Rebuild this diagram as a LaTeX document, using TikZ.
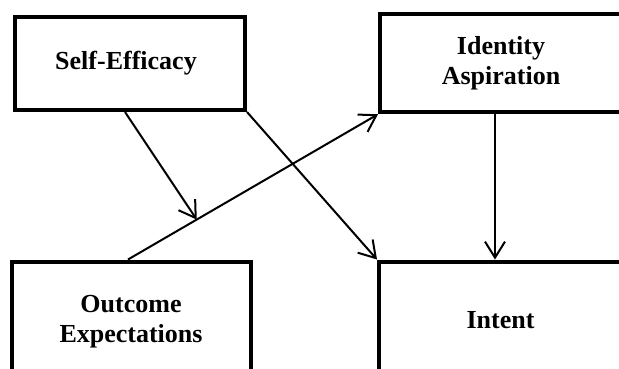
\documentclass[tikz,border=0pt]{standalone}
\usepackage{fontspec}
\setmainfont{Liberation Serif}
\usepackage{tikz}
\usetikzlibrary{calc}
\usetikzlibrary{arrows.meta}
\usetikzlibrary{positioning}
\pgfkeys{tikz/constructbox/.style={draw,line width=4pt,rectangle,align=center,inner sep=0pt,font=\fontsize{26}{30}\selectfont\bfseries}}
\pgfkeys{tikz/patharrow/.style={line width=2pt,-{Straight Barb[length=16pt,width=20pt,line width=2pt]}}}

\begin{document}
\begin{tikzpicture}[x=1pt,y=-1pt]
    \clip (0,0) rectangle (619,368);
    \node[constructbox,minimum width=230pt,minimum height=93pt] (selfeff) at (130,63.5) {Self-Efficacy\hspace*{8pt}};
    \node[constructbox,minimum width=242pt,minimum height=98pt] (identity) at (501,63.25) {Identity\\Aspiration};
    \node[constructbox,minimum width=239pt,minimum height=121pt] (outcome) at (131,322) {Outcome\\Expectations};
    \node[constructbox,minimum width=243pt,minimum height=117pt] (intent) at (500.5,320) {Intent};
    \coordinate (mod) at ($([xshift=-3pt]outcome.north)!0.275!(identity.south west)$);
    \draw[patharrow] ([xshift=-3pt]outcome.north) -- (identity.south west);
    \draw[patharrow] ([xshift=-5pt]selfeff.south) -- (mod);
    \draw[patharrow] (selfeff.south east) -- (intent.north west);
    \draw[patharrow] ([xshift=-6pt]identity.south) -- ([xshift=-6pt]identity.south |- intent.north);
\end{tikzpicture}
\end{document}
